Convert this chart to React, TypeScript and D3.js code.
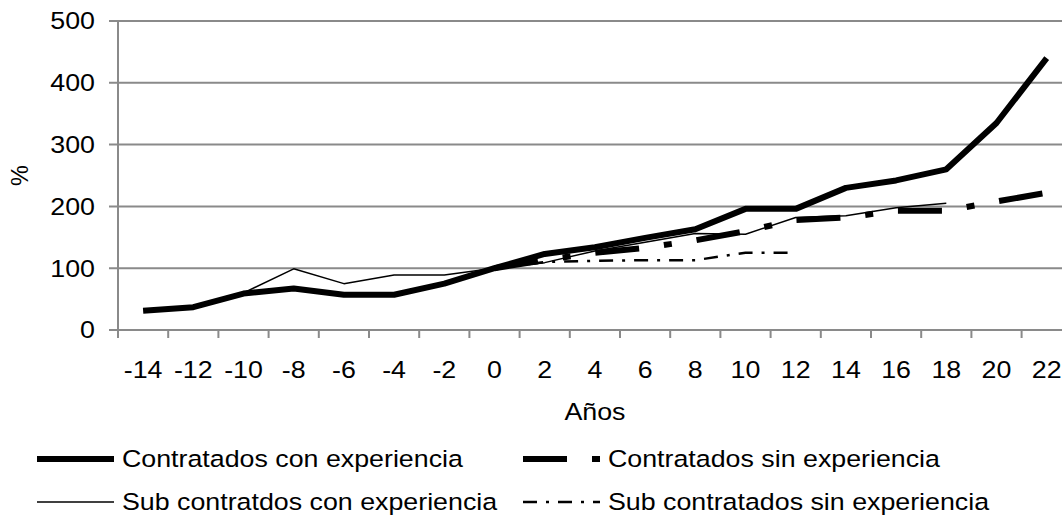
import * as React from 'react';
import * as d3 from 'd3';

// años relativos (eje X)
const years = [-14, -12, -10, -8, -6, -4, -2, 0, 2, 4, 6, 8, 10, 12, 14, 16, 18, 20, 22];
const yTicks = [0, 100, 200, 300, 400, 500];

const contratadosConExp = [31, 37, 59, 67, 57, 57, 75, 100, 123, 134, 149, 163, 196, 196, 230, 242, 260, 335, 440];
const contratadosSinExp = [null, null, null, null, null, null, null, 100, 113, 125, 133, 145, 160, 178, 182, 193, 193, 208, 222];
const subConExp = [null, null, 60, 99, 75, 89, 89, 100, 109, 128, 142, 156, 155, 182, 185, 198, 205, null, null];
const subSinExp = [null, null, null, null, null, null, null, 100, 110, 112, 113, 113, 125, 125, null, null, null, null, null];

const series = [
  {name: 'Contratados con experiencia', values: contratadosConExp, width: 6, dash: null},
  {name: 'Contratados sin experiencia', values: contratadosSinExp, width: 6, dash: '44,25,8,25'},
  {name: 'Sub contratdos con experiencia', values: subConExp, width: 1.5, dash: null},
  {name: 'Sub contratados sin experiencia', values: subSinExp, width: 2.5, dash: '14,9,3,9'},
];

const width = 1062;
const height = 520;
const margin = {left: 118, top: 21, bottom: 330};
const band = 50.2;
const font = 'Liberation Sans, Arial, sans-serif';
const fs = 23.5;
const sx = 1.14;
const grid = '#8a8a8a';

export default function App() {
  const x = d3.scaleBand<number>()
    .domain(years)
    .range([margin.left, margin.left + band * years.length])
    .paddingInner(0).paddingOuter(0);
  const y = d3.scaleLinear().domain([0, 500]).range([margin.bottom, margin.top]);
  const cx = (d: number) => (x(d) as number) + x.bandwidth() / 2;

  const line = d3.line<number | null>()
    .defined(d => d != null)
    .x((d, i) => cx(years[i]))
    .y(d => y(d as number));

  const right = margin.left + band * years.length;

  // legend slots: two columns, two rows
  const legendPos = [
    {x: 37, y: 459}, {x: 523, y: 459},
    {x: 37, y: 502}, {x: 523, y: 502},
  ];

  const label = (tx: number, ty: number, text: string, anchor: string, key?: any) => (
    <text key={key} transform={`translate(${tx},${ty}) scale(${sx},1)`} textAnchor={anchor}
      dominantBaseline="central" fontFamily={font} fontSize={fs} fill="#000">{text}</text>
  );

  return (
    <svg width={width} height={height} style={{position: 'absolute', left: 0, top: 0, background: '#fff'}}>
      {/* gridlines */}
      {yTicks.map(t => (
        <g key={t}>
          <line x1={margin.left - 9} x2={right} y1={y(t)} y2={y(t)} stroke={grid} strokeWidth={2} />
          {label(95, y(t), String(t), 'end')}
        </g>
      ))}
      {/* axes */}
      <line x1={margin.left} x2={margin.left} y1={margin.top} y2={margin.bottom + 8} stroke={grid} strokeWidth={2} />
      {years.map((d, i) => (
        <g key={d}>
          <line x1={x(d)! + band} x2={x(d)! + band} y1={margin.bottom} y2={margin.bottom + 8} stroke={grid} strokeWidth={2} />
          {label(cx(d), 370, String(d), 'middle')}
        </g>
      ))}
      {label((margin.left + right) / 2, 412, 'Años', 'middle')}
      <text transform={`translate(20,${(margin.top + margin.bottom) / 2}) rotate(-90)`} textAnchor="middle"
        dominantBaseline="central" fontFamily={font} fontSize={fs}>%</text>

      {/* series */}
      {series.map(s => (
        <path key={s.name} d={line(s.values) || ''} fill="none" stroke="#000" strokeWidth={s.width}
          strokeDasharray={s.dash || undefined} strokeLinejoin="round" />
      ))}

      {/* legend */}
      {series.map((s, i) => (
        <g key={s.name}>
          <line x1={legendPos[i].x} x2={legendPos[i].x + 77} y1={legendPos[i].y} y2={legendPos[i].y}
            stroke="#000" strokeWidth={s.width} strokeDasharray={s.dash || undefined} />
          {label(legendPos[i].x + 85, legendPos[i].y, s.name, 'start')}
        </g>
      ))}
    </svg>
  );
}
